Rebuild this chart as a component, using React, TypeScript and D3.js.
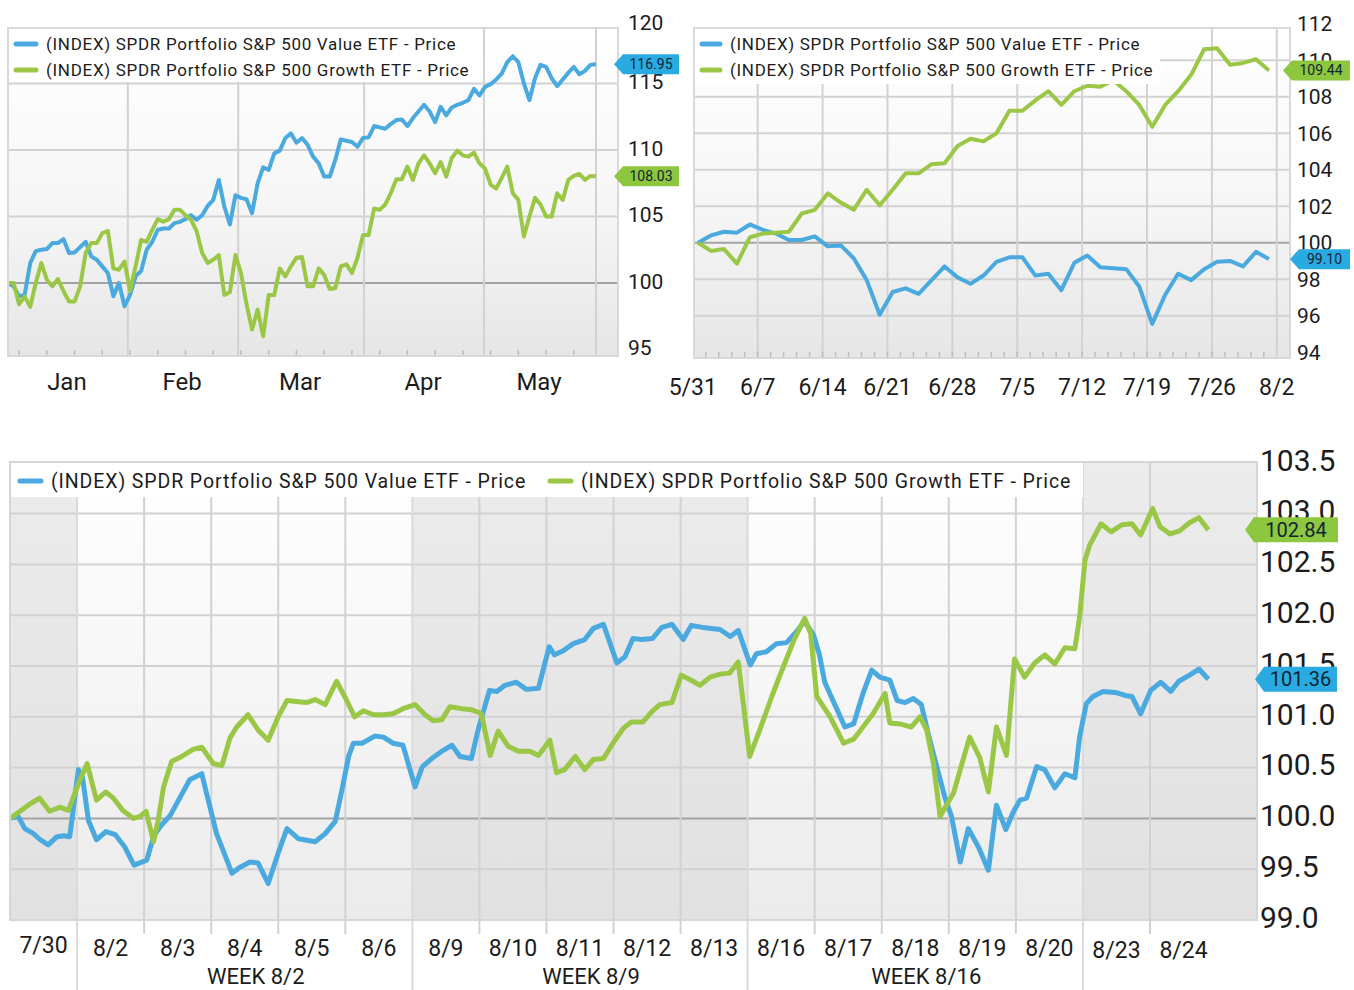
import * as d3 from 'd3'

// ---- YTD panel (Jan - May), trading days
const ytdMonths = ['Jan', 'Feb', 'Mar', 'Apr', 'May']
const ytdMonthStart = [0, 21.6, 41.5, 64.2, 85.8]
const ytdTicks = [95, 100, 105, 110, 115, 120]
const ytdValue = [
  100, 99.75, 99, 99.1, 101.5, 102.4, 102.5, 102.55, 103, 103, 103.3, 102.25, 102.3, 102.7, 103.1, 102,
  101.75, 101.25, 100.75, 99, 100, 98.25, 99.1, 100.5, 100.9, 102.5, 103.1, 104, 104.1, 104.1, 104.5, 104.6,
  104.8, 105.1, 104.75, 105.1, 105.8, 106.25, 107.75, 105.75, 104.4, 106.6, 106.4, 106.3, 105.25, 107.5, 108.7,
  108.5, 109.75, 109.95, 110.9, 111.25, 110.55, 110.9, 110.4, 109.5, 109, 108, 108, 109.25, 110.8, 110.7,
  110.6, 110.25, 110.9, 110.95, 111.8, 111.7, 111.6, 111.95, 112.25, 112.3, 111.8, 112.4, 112.9, 113.4, 112.9,
  112.1, 113.25, 112.6, 113.2, 113.4, 113.55, 113.75, 114.6, 114.1, 114.75, 114.95, 115.3, 115.75, 116.6,
  117.05, 116.6, 115, 113.75, 115.4, 116.4, 116.25, 115.4, 114.8, 115.3, 115.8, 116.25, 115.7, 115.95, 116.4,
  116.45,
]
const ytdGrowth = [
  100, 100, 98.4, 99, 98.2, 100, 101.5, 100.25, 99.75, 100.3, 99.4, 98.6, 98.6, 99.75, 102.25, 103, 103,
  103.75, 103.9, 101.1, 101, 101.6, 99.4, 101.25, 103.25, 103.1, 104, 104.8, 104.6, 104.8, 105.5, 105.5, 105.1,
  104.75, 103.9, 102.25, 101.5, 101.75, 102.1, 99.1, 99.3, 102.1, 100.75, 98.4, 96.5, 98, 96, 99.1, 99.1,
  101.1, 100.5, 101.25, 101.9, 101.95, 99.75, 99.75, 101.1, 100.6, 99.55, 99.6, 101.25, 101.4, 100.75, 101.9,
  103.6, 103.6, 105.6, 105.5, 105.9, 106.75, 107.8, 107.8, 108.75, 107.75, 109, 109.6, 109, 108.25, 109.1, 108,
  109.4, 109.95, 109.6, 109.5, 109.8, 109, 108.6, 107.4, 107.1, 107.9, 108.75, 106.75, 106.25, 103.5, 105,
  106.4, 105.9, 105, 105, 106.75, 106.25, 107.75, 108.05, 108.2, 107.75, 108.05, 108.03,
]
const ytdLast = ['116.95', '108.03']

// ---- 5/31 - 8/2 panel, trading days
const sumWeeks = ['5/31', '6/7', '6/14', '6/21', '6/28', '7/5', '7/12', '7/19', '7/26', '8/2']
const sumTicks = [94, 96, 98, 100, 102, 104, 106, 108, 110, 112]
const sumValue = [
  100, 100.4, 100.6, 100.55, 101, 100.7, 100.5, 100.15, 100.15, 100.35, 99.8, 99.85, 99.15, 97.95, 96.05,
  97.3, 97.5, 97.2, 97.95, 98.7, 98.1, 97.75, 98.2, 98.95, 99.2, 99.2, 98.2, 98.3, 97.4, 98.9, 99.3, 98.65,
  98.6, 98.55, 97.6, 95.55, 97.15, 98.3, 97.95, 98.55, 98.95, 99, 98.7, 99.5, 99.1,
]
const sumGrowth = [
  100, 99.55, 99.65, 98.85, 100.3, 100.5, 100.55, 100.6, 101.6, 101.8, 102.7, 102.2, 101.8, 102.9, 102.05,
  102.9, 103.8, 103.8, 104.3, 104.35, 105.3, 105.7, 105.55, 106, 107.23, 107.23, 107.8, 108.3, 107.55, 108.3,
  108.6, 108.55, 108.9, 108.3, 107.55, 106.35, 107.55, 108.3, 109.2, 110.6, 110.65, 109.75, 109.85, 110.05,
  109.44,
]
const sumLast = ['99.10', '109.44']

// ---- 7/30 - 8/24 intraday panel, [trading day, value]
const augDays = ['7/30', '8/2', '8/3', '8/4', '8/5', '8/6', '8/9', '8/10', '8/11', '8/12', '8/13', '8/16', '8/17', '8/18', '8/19', '8/20', '8/23', '8/24']
const augWeeks = ['WEEK 8/2', 'WEEK 8/9', 'WEEK 8/16']
const augTicks = [99, 99.5, 100, 100.5, 101, 101.5, 102, 102.5, 103, 103.5]
const augValue: [number, number][] = [
  [0, 100], [0.12, 100.02], [0.22, 99.9], [0.35, 99.85], [0.45, 99.79], [0.57, 99.74], [0.7, 99.82], [0.8, 99.83],
  [0.89, 99.82], [1.02, 100.48], [1.08, 100.41], [1.17, 99.98], [1.29, 99.79], [1.43, 99.87], [1.57, 99.84],
  [1.71, 99.72], [1.85, 99.54], [2.04, 99.59], [2.14, 99.82], [2.24, 99.92], [2.39, 100.03], [2.53, 100.2],
  [2.68, 100.38], [2.86, 100.44], [2.93, 100.25], [3.08, 99.85], [3.31, 99.46], [3.43, 99.52], [3.58, 99.57],
  [3.7, 99.56], [3.85, 99.36], [4, 99.66], [4.13, 99.9], [4.3, 99.8], [4.55, 99.77], [4.7, 99.85], [4.85, 99.97],
  [4.95, 100.28], [5.05, 100.61], [5.12, 100.74], [5.25, 100.74], [5.44, 100.81], [5.57, 100.8], [5.71, 100.74],
  [5.86, 100.72], [6.04, 100.31], [6.15, 100.51], [6.31, 100.6], [6.46, 100.67], [6.59, 100.72], [6.71, 100.61],
  [6.88, 100.59], [6.98, 100.87], [7.15, 101.26], [7.26, 101.25], [7.38, 101.31], [7.55, 101.34], [7.7, 101.27],
  [7.88, 101.28], [8.04, 101.69], [8.12, 101.61], [8.25, 101.65], [8.4, 101.72], [8.57, 101.76], [8.7, 101.87],
  [8.85, 101.91], [8.95, 101.72], [9.05, 101.53], [9.17, 101.59], [9.29, 101.77], [9.42, 101.76], [9.58, 101.77],
  [9.72, 101.88], [9.87, 101.91], [10.04, 101.76], [10.16, 101.9], [10.33, 101.88], [10.59, 101.86],
  [10.74, 101.79], [10.86, 101.85], [11.04, 101.51], [11.13, 101.62], [11.28, 101.64], [11.43, 101.72],
  [11.58, 101.73], [11.73, 101.84], [11.85, 101.94], [11.98, 101.81], [12.07, 101.61], [12.15, 101.34],
  [12.3, 101.12], [12.45, 100.9], [12.58, 100.93], [12.72, 101.23], [12.85, 101.46], [12.97, 101.39],
  [13.12, 101.36], [13.23, 101.16], [13.35, 101.14], [13.47, 101.18], [13.59, 101.12], [13.69, 100.84],
  [13.82, 100.51], [13.94, 100.21], [14.04, 100.02], [14.17, 99.57], [14.29, 99.9], [14.44, 99.72], [14.59, 99.49],
  [14.71, 100.13], [14.85, 99.89], [14.96, 100.06], [15.06, 100.18], [15.16, 100.2], [15.31, 100.51],
  [15.43, 100.48], [15.58, 100.3], [15.73, 100.44], [15.88, 100.4], [15.95, 100.8], [16.05, 101.13],
  [16.15, 101.2], [16.3, 101.25], [16.48, 101.24], [16.63, 101.21], [16.73, 101.2], [16.86, 101.03],
  [17.01, 101.26], [17.16, 101.34], [17.31, 101.25], [17.43, 101.35], [17.59, 101.41], [17.73, 101.47],
  [17.87, 101.37],
]
const augGrowth: [number, number][] = [
  [0, 100], [0.15, 100.07], [0.27, 100.13], [0.44, 100.2], [0.59, 100.07], [0.74, 100.11], [0.87, 100.08],
  [1.02, 100.34], [1.15, 100.54], [1.29, 100.18], [1.43, 100.26], [1.54, 100.2], [1.68, 100.08], [1.84, 100],
  [1.94, 100.02], [2.03, 100.07], [2.14, 99.77], [2.21, 99.98], [2.29, 100.31], [2.41, 100.56], [2.56, 100.61],
  [2.73, 100.68], [2.86, 100.7], [3.03, 100.54], [3.16, 100.52], [3.28, 100.79], [3.38, 100.9], [3.55, 101.02],
  [3.7, 100.87], [3.85, 100.77], [4, 101], [4.13, 101.16], [4.27, 101.15], [4.42, 101.14], [4.55, 101.17],
  [4.7, 101.12], [4.87, 101.35], [4.99, 101.2], [5.14, 101], [5.27, 101.06], [5.42, 101.02], [5.57, 101.02],
  [5.71, 101.03], [5.86, 101.08], [6.04, 101.12], [6.19, 101.02], [6.31, 100.96], [6.44, 100.97], [6.56, 101.1],
  [6.74, 101.08], [6.88, 101.07], [7.03, 101.03], [7.16, 100.62], [7.28, 100.86], [7.43, 100.71], [7.58, 100.66],
  [7.75, 100.66], [7.88, 100.62], [8.05, 100.77], [8.15, 100.45], [8.27, 100.48], [8.43, 100.61], [8.57, 100.48],
  [8.7, 100.58], [8.85, 100.59], [9, 100.75], [9.15, 100.89], [9.27, 100.95], [9.44, 100.95], [9.57, 101.05],
  [9.69, 101.12], [9.87, 101.14], [10.01, 101.41], [10.16, 101.36], [10.29, 101.31], [10.44, 101.39],
  [10.59, 101.42], [10.73, 101.43], [10.86, 101.54], [11.03, 100.61], [11.18, 100.87], [11.36, 101.2],
  [11.53, 101.49], [11.7, 101.77], [11.85, 101.97], [11.94, 101.82], [12.03, 101.2], [12.23, 101],
  [12.43, 100.74], [12.58, 100.78], [12.72, 100.9], [12.87, 101.03], [13.05, 101.23], [13.12, 100.94],
  [13.27, 100.93], [13.44, 100.9], [13.57, 101], [13.67, 100.87], [13.77, 100.54], [13.87, 100.02],
  [14.07, 100.25], [14.31, 100.8], [14.46, 100.6], [14.59, 100.26], [14.71, 100.9], [14.86, 100.62],
  [14.98, 101.57], [15.13, 101.39], [15.28, 101.53], [15.43, 101.61], [15.58, 101.52], [15.73, 101.68],
  [15.88, 101.67], [15.95, 101.98], [16.03, 102.54], [16.1, 102.69], [16.27, 102.9], [16.42, 102.82],
  [16.58, 102.89], [16.73, 102.9], [16.86, 102.79], [17.04, 103.05], [17.15, 102.87], [17.3, 102.8],
  [17.44, 102.83], [17.59, 102.91], [17.73, 102.96], [17.87, 102.84],
]
const augLast = ['101.36', '102.84']

const seriesNames = [
  '(INDEX) SPDR Portfolio S&P 500 Value ETF - Price',
  '(INDEX) SPDR Portfolio S&P 500 Growth ETF - Price',
]

const FONT = 'Roboto, "Noto Sans", sans-serif'
const BLUE = '#4aa9df'
const GREEN = '#9bc746'
const BLUE_TAG = '#29abe2'
const GREEN_TAG = '#8dc63f'
const GRID = '#d2d2d2'
const ZERO = '#a3a3a3'
const INK = '#1c1c1c'

function Tag({ x, y, w, h, fill, text, size }: any) {
  const d = `M${x},${y} L${x + 9},${y - h / 2} L${x + w},${y - h / 2} L${x + w},${y + h / 2} L${x + 9},${y + h / 2} Z`
  return (
    <g>
      <path d={d} fill={fill} />
      <text x={x + 9 + (w - 9) / 2} y={y} dy="0.36em" textAnchor="middle" fontSize={size} fill="#112436">{text}</text>
    </g>
  )
}

function Key({ x, y, color, label, size, len, spacing }: any) {
  return (
    <g>
      <line x1={x} x2={x + len} y1={y} y2={y} stroke={color} strokeWidth={5} strokeLinecap="round" />
      <text x={x + len + 10} y={y} dy="0.36em" fontSize={size} letterSpacing={spacing} fill={INK}>{label}</text>
    </g>
  )
}

function YtdPanel() {
  const L = 8, R = 618, T = 28, B = 356
  const n = ytdValue.length
  const x = d3.scaleLinear().domain([0, n - 1]).range([8, 596])
  const y = d3.scaleLinear().domain([95, 120]).range([349.5, 17])
  const line = d3.line<number>().x((_, i) => x(i)).y(d => y(d))
  const bounds = [...ytdMonthStart, n - 1]
  const weekTicks = d3.range(2, n, 5)
  return (
    <g>
      <rect x={L} y={T} width={R - L} height={B - T} fill="url(#bgTop)" />
      {ytdTicks.filter(t => t > 95 && t < 120).map(t => (
        <line key={t} x1={L} x2={R} y1={y(t)} y2={y(t)} stroke={t === 100 ? ZERO : GRID} strokeWidth={2} />
      ))}
      {bounds.slice(1).map(b => (
        <line key={b} x1={x(b)} x2={x(b)} y1={T} y2={B} stroke={GRID} strokeWidth={2} />
      ))}
      {weekTicks.map(i => (
        <line key={i} x1={x(i)} x2={x(i)} y1={B - 6} y2={B} stroke="#bdbdbd" strokeWidth={1.5} />
      ))}
      <path d={line(ytdValue) ?? ''} fill="none" stroke={BLUE} strokeWidth={4} strokeLinejoin="round" />
      <path d={line(ytdGrowth) ?? ''} fill="none" stroke={GREEN} strokeWidth={4} strokeLinejoin="round" />
      <rect x={L} y={T} width={472} height={54} fill="#fff" />
      <Key x={16} y={44} color={BLUE} label={seriesNames[0]} size={17} len={20} spacing={0.7} />
      <Key x={16} y={70} color={GREEN} label={seriesNames[1]} size={17} len={20} spacing={0.7} />
      <rect x={L} y={T} width={R - L} height={B - T} fill="none" stroke="#d9d9d9" strokeWidth={2} />
      {ytdTicks.map(t => (
        <text key={t} x={628} y={Math.max(22, y(t) - 2)} dy="0.36em" fontSize={21} fill={INK}>{t}</text>
      ))}
      {ytdMonths.map((m, i) => (
        <text key={m} x={(x(bounds[i]) + x(bounds[i + 1])) / 2 - 1} y={381} dy="0.36em" textAnchor="middle" fontSize={24} fill={INK}>{m}</text>
      ))}
      <Tag x={614} y={y(ytdValue[n - 1])} w={65} h={20} fill={BLUE_TAG} text={ytdLast[0]} size={14} />
      <Tag x={614} y={y(ytdGrowth[n - 1])} w={65} h={20} fill={GREEN_TAG} text={ytdLast[1]} size={14} />
    </g>
  )
}

function SummerPanel() {
  const L = 694, R = 1290, T = 28, B = 358
  const n = sumValue.length
  const x = d3.scaleLinear().domain([0, n - 1]).range([698, 1269])
  const y = d3.scaleLinear().domain([94, 112]).range([352.2, 23.7])
  const line = d3.line<number>().x((_, i) => x(i)).y(d => y(d))
  const weekPos = sumWeeks.map((_, k) => k * 5 - 0.4)
  return (
    <g>
      <rect x={L} y={T} width={R - L} height={B - T} fill="url(#bgTop)" />
      {sumTicks.filter(t => t > 94 && t < 112).map(t => (
        <line key={t} x1={L} x2={R} y1={y(t)} y2={y(t)} stroke={t === 100 ? ZERO : GRID} strokeWidth={2} />
      ))}
      {weekPos.slice(1).map(p => (
        <line key={p} x1={x(p)} x2={x(p)} y1={T} y2={B} stroke={GRID} strokeWidth={2} />
      ))}
      {d3.range(1, n).map(i => (
        <line key={i} x1={x(i - 0.4)} x2={x(i - 0.4)} y1={B - 6} y2={B} stroke="#bdbdbd" strokeWidth={1.5} />
      ))}
      <path d={line(sumValue) ?? ''} fill="none" stroke={BLUE} strokeWidth={4} strokeLinejoin="round" />
      <path d={line(sumGrowth) ?? ''} fill="none" stroke={GREEN} strokeWidth={4} strokeLinejoin="round" />
      <rect x={L} y={T} width={466} height={56} fill="#fff" />
      <Key x={702} y={44} color={BLUE} label={seriesNames[0]} size={17} len={18} spacing={0.7} />
      <Key x={702} y={70} color={GREEN} label={seriesNames[1]} size={17} len={18} spacing={0.7} />
      <rect x={L} y={T} width={R - L} height={B - T} fill="none" stroke="#d9d9d9" strokeWidth={2} />
      {sumTicks.map(t => (
        <text key={t} x={1297} y={y(t)} dy="0.36em" fontSize={21} fill={INK}>{t}</text>
      ))}
      {sumWeeks.map((w, k) => (
        <text key={w} x={x(weekPos[k])} y={387} dy="0.36em" textAnchor="middle" fontSize={23} fill={INK}>{w}</text>
      ))}
      <Tag x={1283} y={y(sumGrowth[n - 1])} w={67} h={20} fill={GREEN_TAG} text={sumLast[1]} size={14} />
      <Tag x={1290} y={y(sumValue[n - 1])} w={60} h={20} fill={BLUE_TAG} text={sumLast[0]} size={14} />
    </g>
  )
}

function AugPanel() {
  const L = 10, R = 1257, T = 462, B = 920
  const x = d3.scaleLinear().domain([0, 18.6]).range([10, 1257.3])
  const y = d3.scaleLinear().domain([99, 103.5]).range([920, 462.8])
  const line = d3.line<[number, number]>().x(d => x(d[0])).y(d => y(d[1]))
  const shaded = [[0, 1], [6, 11], [16, 18.6]]
  const weekStart = [1, 6, 11, 16]
  const lastV = augValue[augValue.length - 1][1]
  const lastG = augGrowth[augGrowth.length - 1][1]
  return (
    <g>
      <rect x={L} y={T} width={R - L} height={B - T} fill="url(#bgWhite)" />
      {shaded.map(([a, b]) => (
        <rect key={a} x={x(a)} y={T} width={x(b) - x(a)} height={B - T} fill="url(#bgShade)" />
      ))}
      {augTicks.filter(t => t > 99 && t < 103.5).map(t => (
        <line key={t} x1={L} x2={R} y1={y(t)} y2={y(t)} stroke={t === 100 ? ZERO : GRID} strokeWidth={2} />
      ))}
      {d3.range(1, augDays.length).map(k => (
        <line key={k} x1={x(k)} x2={x(k)} y1={T} y2={weekStart.includes(k) ? 990 : B + 14}
          stroke={weekStart.includes(k) ? '#dadada' : GRID} strokeWidth={2} />
      ))}
      <path d={line(augValue) ?? ''} fill="none" stroke={BLUE} strokeWidth={5} strokeLinejoin="round" />
      <path d={line(augGrowth) ?? ''} fill="none" stroke={GREEN} strokeWidth={5} strokeLinejoin="round" />
      <rect x={L} y={T + 1} width={1073} height={34} fill="#fff" />
      <Key x={20} y={481} color={BLUE} label={seriesNames[0]} size={19.5} len={21} spacing={0.9} />
      <Key x={550} y={481} color={GREEN} label={seriesNames[1]} size={19.5} len={21} spacing={0.9} />
      <rect x={L} y={T} width={R - L} height={B - T} fill="none" stroke="#d6d6d6" strokeWidth={2} />
      {augTicks.map(t => (
        <text key={t} x={1260} y={y(t) - 3} dy="0.36em" fontSize={30} fill={INK}>{t.toFixed(1)}</text>
      ))}
      {augDays.map((d, k) => (
        <text key={d} x={x(k + 0.5)} y={k === 0 ? 945 : k >= 16 ? 950 : 948} dy="0.36em" textAnchor="middle" fontSize={23} fill={INK}>{d}</text>
      ))}
      {augWeeks.map((w, i) => (
        <text key={w} x={(x(weekStart[i]) + x(weekStart[i + 1])) / 2 + 11} y={976} dy="0.36em" textAnchor="middle" fontSize={22} fill={INK}>{w}</text>
      ))}
      <Tag x={1245} y={y(lastG)} w={93} h={25} fill={GREEN_TAG} text={augLast[1]} size={20} />
      <Tag x={1255} y={y(lastV)} w={82} h={25} fill={BLUE_TAG} text={augLast[0]} size={20} />
    </g>
  )
}

export default function App() {
  return (
    <div style={{ position: 'absolute', left: 0, top: 0, width: 1354, height: 990, background: '#fff' }}>
      <svg width={1354} height={990} style={{ display: 'block', fontFamily: FONT }}>
        <defs>
          <linearGradient id="bgTop" x1="0" y1="0" x2="0" y2="1">
            <stop offset="0" stopColor="#ffffff" />
            <stop offset="0.55" stopColor="#f6f6f6" />
            <stop offset="1" stopColor="#e6e6e6" />
          </linearGradient>
          <linearGradient id="bgWhite" x1="0" y1="0" x2="0" y2="1">
            <stop offset="0" stopColor="#ffffff" />
            <stop offset="0.5" stopColor="#f6f6f6" />
            <stop offset="1" stopColor="#ebebeb" />
          </linearGradient>
          <linearGradient id="bgShade" x1="0" y1="0" x2="0" y2="1">
            <stop offset="0" stopColor="#ececec" />
            <stop offset="1" stopColor="#e1e1e1" />
          </linearGradient>
        </defs>
        <YtdPanel />
        <SummerPanel />
        <AugPanel />
      </svg>
    </div>
  )
}
